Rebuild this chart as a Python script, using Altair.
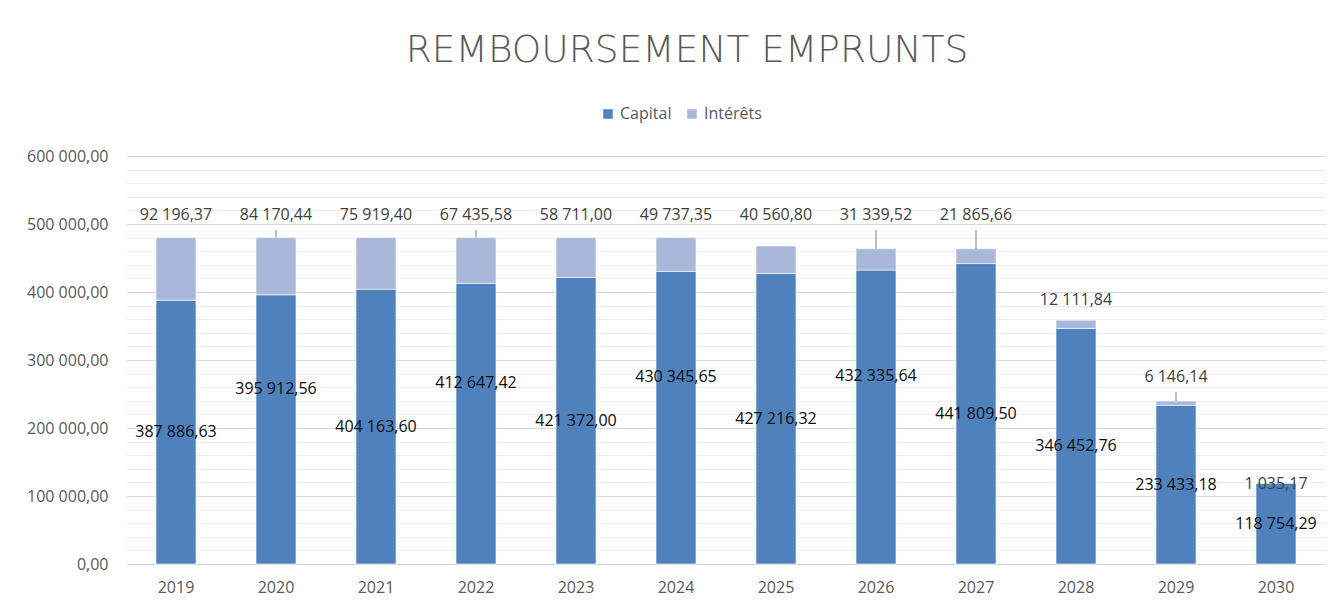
import altair as alt
import pandas as pd

years = ["2019", "2020", "2021", "2022", "2023", "2024",
         "2025", "2026", "2027", "2028", "2029", "2030"]
capital = [387886.63, 395912.56, 404163.60, 412647.42, 421372.00, 430345.65,
           427216.32, 432335.64, 441809.50, 346452.76, 233433.18, 118754.29]
interets = [92196.37, 84170.44, 75919.40, 67435.58, 58711.00, 49737.35,
            40560.80, 31339.52, 21865.66, 12111.84, 6146.14, 1035.17]
# label anchors (data units)
capital_label_shift = [0, 60000, 0, 60000, 0, 60000, 0, 60000, 0, 0, 0, 0]
interets_label_at = [513000, 513000, 513000, 513000, 513000, 513000,
                     513000, 513000, 513000, 388000, 275000, 117600]
leader = [False, True, False, True, False, False,
          False, True, True, False, True, False]
y_ticks = list(range(0, 600001, 20000))

series = ["Capital", "Intérêts"]
colors = ["#4F81BD", "#A9B8D9"]


def fr(v):
    s = f"{v:,.2f}"
    return s.replace(",", " ").replace(".", ",")


rows = []
for i, y in enumerate(years):
    rows.append({"year": y, "serie": "Capital", "value": capital[i], "ord": 0})
    rows.append({"year": y, "serie": "Intérêts", "value": interets[i], "ord": 1})
bars_df = pd.DataFrame(rows)

cap_lab = pd.DataFrame({
    "year": years,
    "value": [c / 2 + s for c, s in zip(capital, capital_label_shift)],
    "txt": [fr(c) for c in capital],
})
int_lab = pd.DataFrame({
    "year": years,
    "value": interets_label_at,
    "txt": [fr(v) for v in interets],
})
lead_df = pd.DataFrame({
    "year": [y for y, l in zip(years, leader) if l],
    "value": [p - 22000 for p, l in zip(interets_label_at, leader) if l],
    "bottom": [c + v for c, v, l in zip(capital, interets, leader) if l],
})

yscale = alt.Scale(domain=[0, 600000], nice=False)
xenc = alt.X("year:N", title=None, sort=years,
             scale=alt.Scale(paddingInner=0.6, paddingOuter=0.3),
             axis=alt.Axis(labelAngle=0, ticks=False, domain=False,
                           labelFont="Open Sans", labelFontSize=16,
                           labelColor="#595959", labelPadding=15))

label_expr = ("datum.value % 100000 === 0 ? "
              "replace(replace(format(datum.value, ',.2f'), ',', ' '), '.', ',') : ''")

yaxis = alt.Axis(values=y_ticks, tickCount=len(y_ticks) + 5, labelOverlap=False,
                 labelExpr=label_expr, ticks=False,
                 domain=False, labelFont="Open Sans", labelFontSize=16,
                 labelColor="#595959", labelPadding=18,
                 gridColor={"condition": {"test": "datum.value % 100000 === 0",
                                          "value": "#D9D9D9"},
                            "value": "#EDEDED"},
                 gridWidth=1.2)

bars = alt.Chart(bars_df).mark_bar(stroke="#ffffff", strokeWidth=0.6).encode(
    x=xenc,
    y=alt.Y("value:Q", title=None, stack="zero", scale=yscale, axis=yaxis),
    color=alt.Color("serie:N", scale=alt.Scale(domain=series, range=colors),
                    legend=alt.Legend(title=None, orient="none", direction="horizontal",
                                      legendX=474, legendY=-50,
                                      symbolType="square", symbolSize=90,
                                      symbolStrokeWidth=0, labelOffset=4,
                                      labelFont="Open Sans", labelFontSize=16,
                                      labelColor="#595959", columnPadding=12)),
    order=alt.Order("ord:Q", sort="ascending"),
)

leaders = alt.Chart(lead_df).mark_rule(color="#7F7F7F", strokeWidth=1).encode(
    x=alt.X("year:N", sort=years, title=None),
    y=alt.Y("value:Q", scale=yscale, title=None),
    y2="bottom:Q",
)

cap_text = alt.Chart(cap_lab).mark_text(
    font="Open Sans", fontSize=16, color="#0D0D0D", baseline="middle"
).encode(
    x=alt.X("year:N", sort=years, title=None),
    y=alt.Y("value:Q", scale=yscale, stack=None, title=None),
    text="txt:N",
)

int_text = alt.Chart(int_lab).mark_text(
    font="Open Sans", fontSize=16, color="#404040", baseline="middle"
).encode(
    x=alt.X("year:N", sort=years, title=None),
    y=alt.Y("value:Q", scale=yscale, stack=None, title=None),
    text="txt:N",
)

chart = alt.layer(bars, leaders, cap_text, int_text).properties(
    width=1200,
    height=408,
    padding={"left": 118, "top": 148, "right": 3, "bottom": 38},
    autosize=alt.AutoSizeParams(type="none"),
    title=alt.TitleParams("REMBOURSEMENT EMPRUNTS", anchor="middle", dx=-39,
                          font="DejaVu Sans", fontWeight=200, fontSize=37.5,
                          color="#595959", baseline="alphabetic", offset=7),
).configure_view(stroke=None)

chart.save("out.html", embed_options={"renderer": "svg", "actions": False})
